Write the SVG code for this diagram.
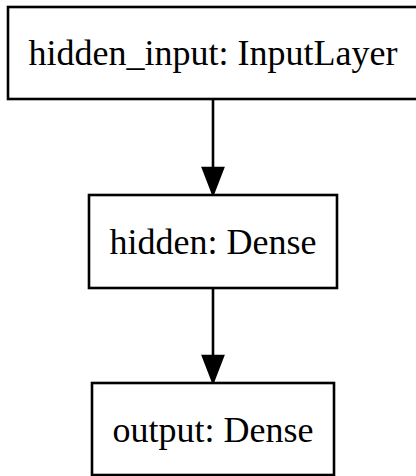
<svg xmlns="http://www.w3.org/2000/svg" width="416" height="476" viewBox="0 0 416 476">
<defs>
<style>
.box{fill:#fff;stroke:#000;stroke-width:2.6}
.lbl{font-family:"Liberation Serif","Times New Roman",serif;font-size:36px;fill:#000;text-anchor:middle}
.edge{stroke:#000;stroke-width:2.6;fill:none}
.head{fill:#000;stroke:#000;stroke-width:2.6}
</style>
</defs>
<rect width="416" height="476" fill="#fff"/>
<g id="edges">
<path class="edge" d="M213,99 V168"/>
<polygon class="head" points="203,168 223,168 213,194"/>
<path class="edge" d="M213,288 V356"/>
<polygon class="head" points="203,356 223,356 213,382"/>
</g>
<g id="hidden_input">
<rect class="box" x="8" y="7" width="410" height="92"/>
<text class="lbl" x="213" y="65">hidden_input: InputLayer</text>
</g>
<g id="hidden">
<rect class="box" x="89" y="195" width="248" height="93"/>
<text class="lbl" x="213" y="254">hidden: Dense</text>
</g>
<g id="output">
<rect class="box" x="92" y="383" width="242" height="92"/>
<text class="lbl" x="213" y="442">output: Dense</text>
</g>
</svg>
